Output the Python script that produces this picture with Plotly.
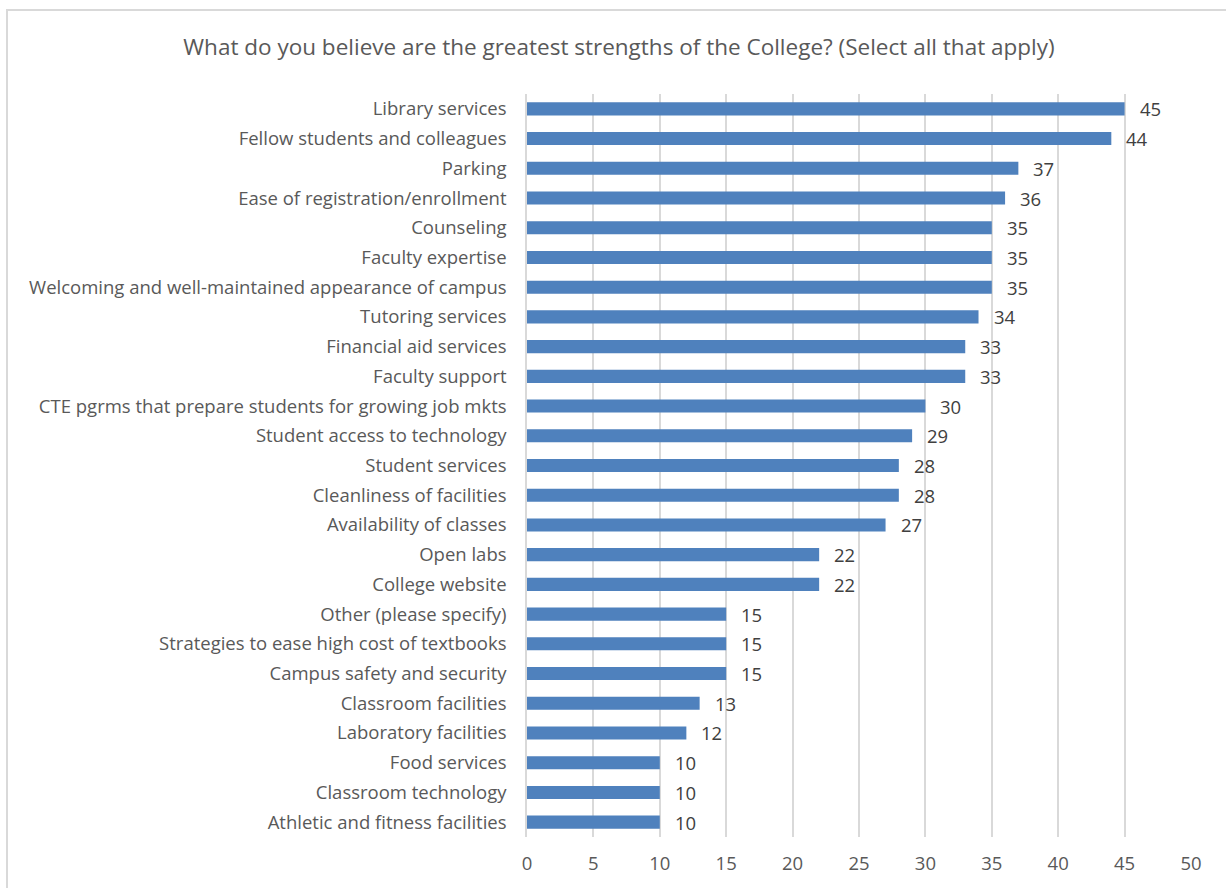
import plotly.graph_objects as go

categories = [
    "Library services",
    "Fellow students and colleagues",
    "Parking",
    "Ease of registration/enrollment",
    "Counseling",
    "Faculty expertise",
    "Welcoming and well-maintained appearance of campus",
    "Tutoring services",
    "Financial aid services",
    "Faculty support",
    "CTE pgrms that prepare students for growing job mkts",
    "Student access to technology",
    "Student services",
    "Cleanliness of facilities",
    "Availability of classes",
    "Open labs",
    "College website",
    "Other (please specify)",
    "Strategies to ease high cost of textbooks",
    "Campus safety and security",
    "Classroom facilities",
    "Laboratory facilities",
    "Food services",
    "Classroom technology",
    "Athletic and fitness facilities",
]
counts = [45, 44, 37, 36, 35, 35, 35, 34, 33, 33, 30, 29, 28, 28, 27,
          22, 22, 15, 15, 15, 13, 12, 10, 10, 10]
x_ticks = [0, 5, 10, 15, 20, 25, 30, 35, 40, 45, 50]

W, H = 1226, 888
L, R, T, B = 527, 35, 94, 51
pw, ph = W - L - R, H - T - B

FONT = "'Open Sans', sans-serif"
GREY = "#595959"
LABEL_SIZE = 18.5

fig = go.Figure(go.Bar(
    x=counts,
    y=categories,
    orientation="h",
    marker=dict(color="#4f81bd", line=dict(width=0)),
    hoverinfo="x+y",
))

# value labels placed just to the right of each bar end
annotations = [
    dict(x=v, y=c, xref="x", yref="y", text=str(v),
         xanchor="left", yanchor="middle", xshift=13, showarrow=False,
         font=dict(family=FONT, size=LABEL_SIZE, color="#404040"))
    for c, v in zip(categories, counts)
]

fig.update_layout(
    width=W, height=H,
    margin=dict(l=L, r=R, t=T, b=B),
    paper_bgcolor="white",
    plot_bgcolor="white",
    bargap=0.56,
    showlegend=False,
    font=dict(family=FONT, color=GREY),
    title=dict(
        text="What do you believe are the greatest strengths of the College? (Select all that apply)",
        x=619 / W, xanchor="center",
        y=1 - 47 / H, yanchor="middle",
        font=dict(family=FONT, size=22.5, color=GREY),
    ),
    xaxis=dict(
        range=[0, 50],
        tickvals=x_ticks,
        showgrid=True, gridcolor="#d9d9d9", gridwidth=1.5,
        zeroline=False, showline=False,
        ticks="", ticklabelstandoff=13,
        tickfont=dict(family=FONT, size=LABEL_SIZE, color=GREY),
        fixedrange=True,
    ),
    yaxis=dict(
        autorange="reversed",
        categoryorder="array", categoryarray=categories,
        showgrid=False, zeroline=False,
        showline=True, linecolor="#d9d9d9", linewidth=1.5,
        ticks="", ticklabelstandoff=15,
        tickfont=dict(family=FONT, size=LABEL_SIZE, color=GREY),
        fixedrange=True,
    ),
    annotations=annotations,
    shapes=[dict(
        type="rect", xref="paper", yref="paper",
        x0=(7 - L) / pw, x1=(W + 10 - L) / pw,
        y0=(H - B - (H + 10)) / ph, y1=(H - B - 10) / ph,
        line=dict(color="#d9d9d9", width=2),
        fillcolor="rgba(0,0,0,0)",
        layer="below",
    )],
)

fig.write_html("out.html", config={"displayModeBar": False})
